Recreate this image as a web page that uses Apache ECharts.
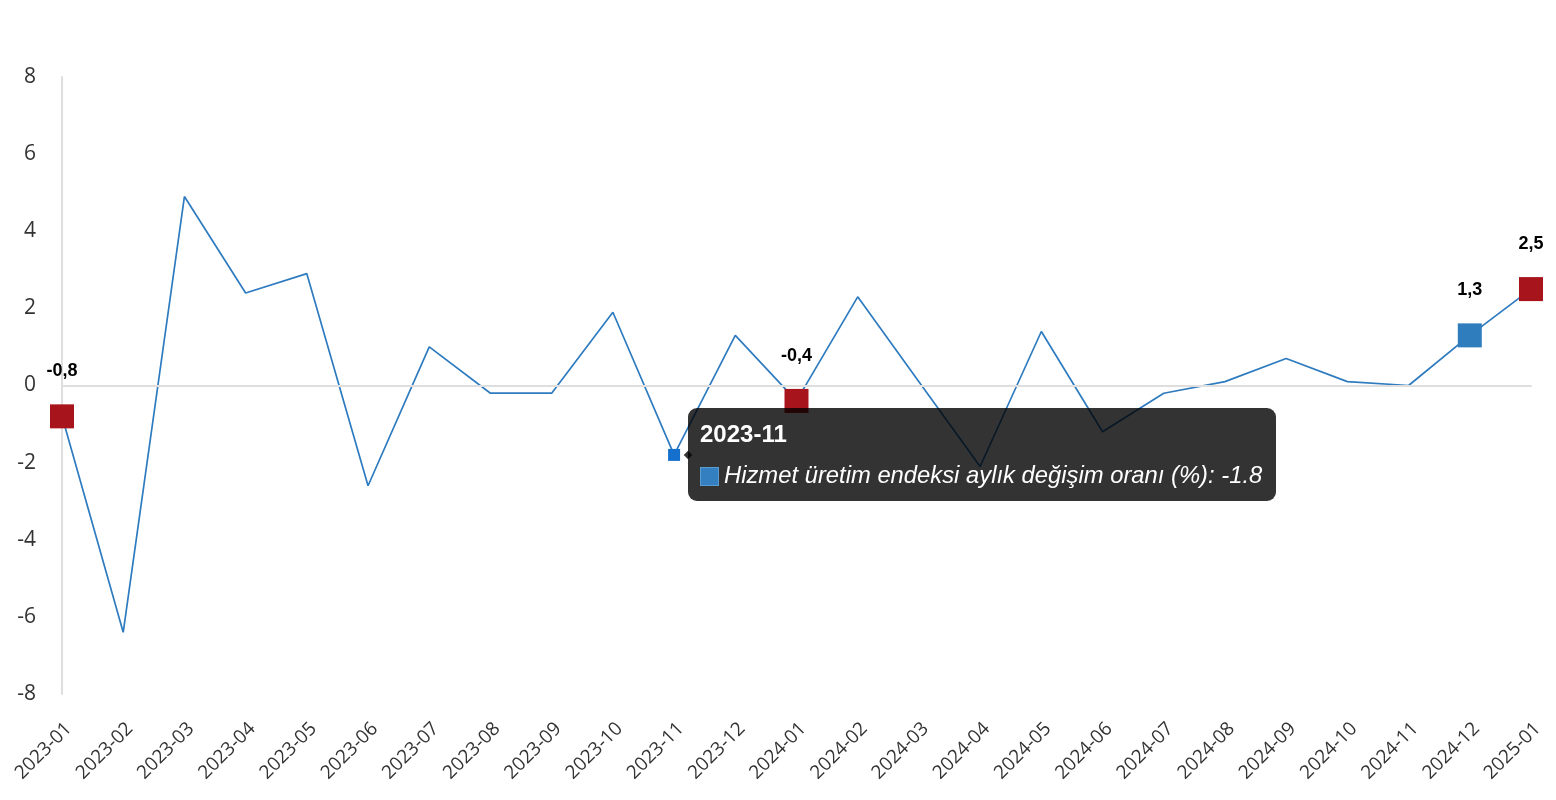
<!DOCTYPE html>
<html>
<head>
<meta charset="utf-8">
<script src="https://cdn.jsdelivr.net/npm/echarts@6/dist/echarts.min.js"></script>
<style>
html,body{margin:0;padding:0;background:#fff;}
#chart{width:1556px;height:800px;}
</style>
</head>
<body>
<div id="chart"></div>
<script>
const categories = ['2023-01','2023-02','2023-03','2023-04','2023-05','2023-06','2023-07','2023-08','2023-09','2023-10','2023-11','2023-12','2024-01','2024-02','2024-03','2024-04','2024-05','2024-06','2024-07','2024-08','2024-09','2024-10','2024-11','2024-12','2025-01'];
const values = [-0.8,-6.4,4.9,2.4,2.9,-2.6,1.0,-0.2,-0.2,1.9,-1.8,1.3,-0.4,2.3,0.1,-2.1,1.4,-1.2,-0.2,0.1,0.7,0.1,0.0,1.3,2.5];
const redMarked = ['2023-01','2024-01','2025-01'];
const blueMarked = ['2024-12'];
const tooltipCategory = '2023-11';
const seriesName = 'Hizmet üretim endeksi aylık değişim oranı (%)';
const yTicks = {min:-8, max:8, interval:2};

const RED = '#a8141c', BLUE = '#2f7dbd', LINE = '#2e7bbf', HOVER = '#1470cc';

const data = values.map((v, i) => {
  const c = categories[i];
  if (redMarked.includes(c)) {
    return {value: v, symbol: 'rect', symbolSize: 24, itemStyle: {color: RED}, label: {show: true}};
  }
  if (blueMarked.includes(c)) {
    return {value: v, symbol: 'rect', symbolSize: 24, itemStyle: {color: BLUE}, label: {show: true}};
  }
  if (c === tooltipCategory) {
    return {value: v, symbol: 'rect', symbolSize: 12, itemStyle: {color: HOVER}};
  }
  return {value: v, symbol: 'none'};
});

const chart = echarts.init(document.getElementById('chart'), null, {renderer: 'canvas'});
chart.setOption({
  animation: false,
  grid: {left: 62, right: 25, top: 77, bottom: 106, containLabel: false},
  tooltip: {
    trigger: 'item',
    triggerOn: 'none',
    alwaysShowContent: true,
    position: 'right',
    backgroundColor: 'rgba(0,0,0,0.8)',
    borderWidth: 0,
    borderRadius: 9,
    padding: [11, 14, 11, 12],
    transitionDuration: 0,
    extraCssText: 'box-shadow:none;',
    textStyle: {color: '#fff', fontFamily: 'Liberation Sans', fontSize: 23},
    formatter: function (p) {
      return '<div style="font-family:Liberation Sans;font-weight:bold;font-size:24px;line-height:30px;color:#fff;">' + p.name + '</div>' +
        '<div style="margin-top:11px;font-family:Liberation Sans;font-size:23.8px;line-height:30px;color:#fff;font-style:italic;white-space:nowrap;">' +
        '<span style="display:inline-block;width:19px;height:19px;background:#337fc0;vertical-align:-3px;margin-right:5px;box-sizing:border-box;border:1px solid #5a9bd0;"></span>' +
        p.seriesName + ': ' + p.value + '</div>';
    }
  },
  xAxis: {
    type: 'category',
    data: categories,
    boundaryGap: false,
    axisLine: {show: true, lineStyle: {color: '#dedede', width: 2}},
    axisTick: {show: false},
    splitLine: {show: false},
    axisLabel: {interval: 0, rotate: 45, margin: 25, verticalAlign: 'top', color: '#333', fontFamily: 'Open Sans', fontSize: 19}
  },
  yAxis: {
    type: 'value',
    min: yTicks.min, max: yTicks.max, interval: yTicks.interval,
    axisLine: {show: true, lineStyle: {color: '#dedede', width: 2}},
    axisTick: {show: false},
    splitLine: {show: false},
    axisLabel: {margin: 26, color: '#333', fontFamily: 'Open Sans', fontSize: 21}
  },
  series: [{
    name: seriesName,
    type: 'line',
    data: data,
    symbol: 'rect',
    showSymbol: true,
    showAllSymbol: true,
    lineStyle: {color: LINE, width: 1.7},
    itemStyle: {color: LINE},
    emphasis: {disabled: true},
    label: {
      show: false,
      position: 'top',
      distance: 24,
      color: '#000',
      fontFamily: 'Liberation Sans',
      fontWeight: 'bold',
      fontSize: 18,
      formatter: function (p) { return String(p.value).replace('.', ','); }
    },
    markLine: {
      silent: true,
      symbol: 'none',
      label: {show: false},
      lineStyle: {color: '#dedede', width: 2, type: 'solid'},
      data: [{yAxis: 0}]
    },
    z: 3
  }]
});
setTimeout(function () {
  chart.dispatchAction({type: 'showTip', seriesIndex: 0, dataIndex: categories.indexOf(tooltipCategory)});
}, 50);
</script>
</body>
</html>
